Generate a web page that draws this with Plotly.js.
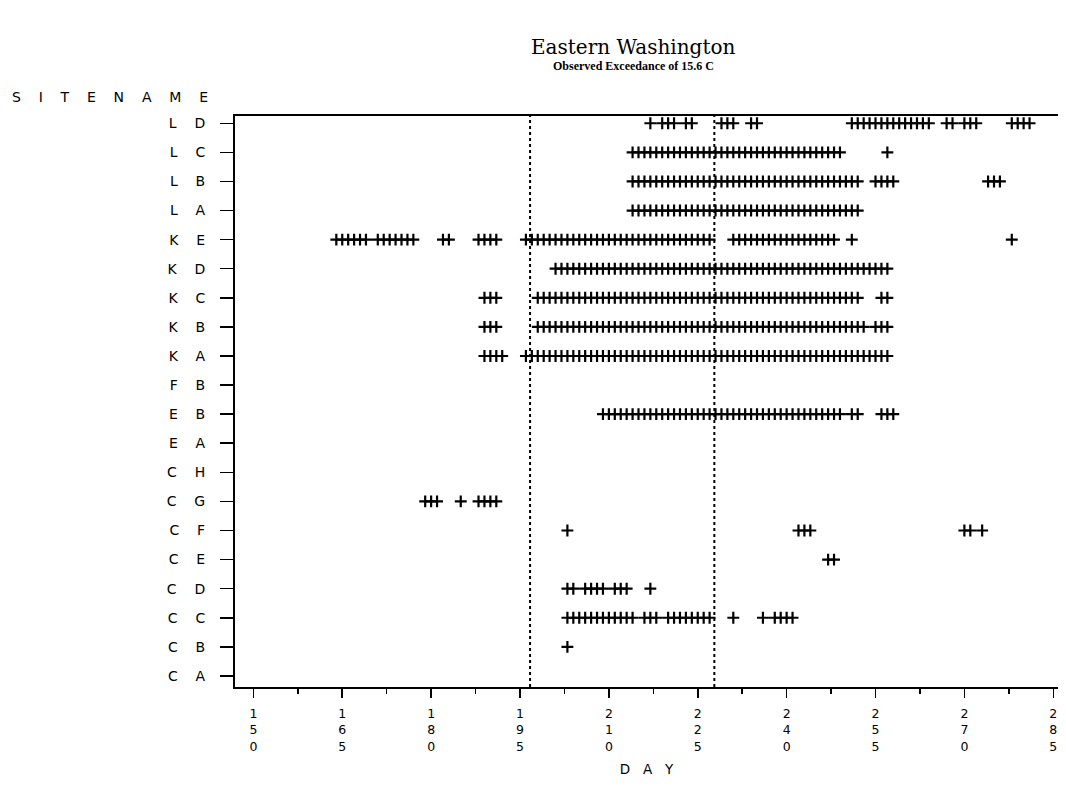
<!DOCTYPE html>
<html>
<head>
<meta charset="utf-8">
<script src="https://cdn.plot.ly/plotly-3.0.1.min.js"></script>
<style>html,body{margin:0;padding:0;background:#fff;}#chart{width:1066px;height:810px;}</style>
</head>
<body>
<div id="chart"></div>
<script>
// Sites, bottom to top
const sites = ["CA","CB","CC","CD","CE","CF","CG","CH","EA","EB","FB","KA","KB","KC","KD","KE","LA","LB","LC","LD"];
const siteLabels = ["C A","C B","C C","C D","C E","C F","C G","C H","E A","E B","F B","K A","K B","K C","K D","K E","L A","L B","L C","L D"];

// Observed exceedance days (day of year) per site
const dayLD = [217,219,220,221,223,224,229,230,231,234,235,251,252,253,254,255,256,257,258,259,260,261,262,263,264,267,268,270,271,272,278,279,280,281];
const dayLC = [214,215,216,217,218,219,220,221,222,223,224,225,226,227,228,229,230,231,232,233,234,235,236,237,238,239,240,241,242,243,244,245,246,247,248,249,257];
const dayLB = [214,215,216,217,218,219,220,221,222,223,224,225,226,227,228,229,230,231,232,233,234,235,236,237,238,239,240,241,242,243,244,245,246,247,248,249,250,251,252,255,256,257,258,274,275,276];
const dayLA = [214,215,216,217,218,219,220,221,222,223,224,225,226,227,228,229,230,231,232,233,234,235,236,237,238,239,240,241,242,243,244,245,246,247,248,249,250,251,252];
const dayKE = [164,165,166,167,168,169,171,172,173,174,175,176,177,182,183,188,189,190,191,196,197,198,199,200,201,202,203,204,205,206,207,208,209,210,211,212,213,214,215,216,217,218,219,220,221,222,223,224,225,226,227,231,232,233,234,235,236,237,238,239,240,241,242,243,244,245,246,247,248,251,278];
const dayKD = [201,202,203,204,205,206,207,208,209,210,211,212,213,214,215,216,217,218,219,220,221,222,223,224,225,226,227,228,229,230,231,232,233,234,235,236,237,238,239,240,241,242,243,244,245,246,247,248,249,250,251,252,253,254,255,256,257];
const dayKC = [189,190,191,198,199,200,201,202,203,204,205,206,207,208,209,210,211,212,213,214,215,216,217,218,219,220,221,222,223,224,225,226,227,228,229,230,231,232,233,234,235,236,237,238,239,240,241,242,243,244,245,246,247,248,249,250,251,252,256,257];
const dayKB = [189,190,191,198,199,200,201,202,203,204,205,206,207,208,209,210,211,212,213,214,215,216,217,218,219,220,221,222,223,224,225,226,227,228,229,230,231,232,233,234,235,236,237,238,239,240,241,242,243,244,245,246,247,248,249,250,251,252,253,255,256,257];
const dayKA = [189,190,191,192,196,197,198,199,200,201,202,203,204,205,206,207,208,209,210,211,212,213,214,215,216,217,218,219,220,221,222,223,224,225,226,227,228,229,230,231,232,233,234,235,236,237,238,239,240,241,242,243,244,245,246,247,248,249,250,251,252,253,254,255,256,257];
const dayFB = [];
const dayEB = [209,210,211,212,213,214,215,216,217,218,219,220,221,222,223,224,225,226,227,228,229,230,231,232,233,234,235,236,237,238,239,240,241,242,243,244,245,246,247,248,249,251,252,256,257,258];
const dayEA = [];
const dayCH = [];
const dayCG = [179,180,181,185,188,189,190,191];
const dayCF = [203,242,243,244,270,271,273];
const dayCE = [247,248];
const dayCD = [203,204,206,207,208,209,211,212,213,217];
const dayCC = [203,204,205,206,207,208,209,210,211,212,213,214,216,217,218,220,221,222,223,224,225,226,227,231,236,238,239,240,241];
const dayCB = [203];
const dayCA = [];

const siteDays = {CA:dayCA,CB:dayCB,CC:dayCC,CD:dayCD,CE:dayCE,CF:dayCF,CG:dayCG,CH:dayCH,EA:dayEA,EB:dayEB,FB:dayFB,KA:dayKA,KB:dayKB,KC:dayKC,KD:dayKD,KE:dayKE,LA:dayLA,LB:dayLB,LC:dayLC,LD:dayLD};

// Reference lines (day of year)
const refDays = [196.7, 227.8];

// X ticks
const xTickVals = [150,165,180,195,210,225,240,255,270,285];
const xTickText = xTickVals.map(v => String(v).split('').join('<br>'));

const traces = sites.map(s => ({
  type: 'scatter',
  mode: 'markers',
  x: siteDays[s],
  y: siteDays[s].map(() => s),
  marker: {symbol: 'cross-thin', size: 8.5, color: '#000', line: {color: '#000', width: 2.2}},
  showlegend: false,
  hoverinfo: 'x+y'
}));
// ensure empty categories exist
traces.push({type:'scatter', mode:'markers', x: sites.map(() => null), y: sites, showlegend:false, hoverinfo:'skip'});

const nb = '\u00a0';
const spaced = (t, n) => t.split('').join(nb.repeat(n));

const layout = {
  width: 1066, height: 810,
  paper_bgcolor: '#fff', plot_bgcolor: '#fff',
  margin: {l: 235, r: 8, t: 116, b: 123},
  font: {family: 'DejaVu Sans', color: '#000'},
  xaxis: {
    range: [146.9, 285.8],
    tickmode: 'array', tickvals: xTickVals, ticktext: xTickText,
    ticks: 'outside', ticklen: 9, tickwidth: 1.5, tickcolor: '#000',
    minor: {tick0: 150, dtick: 7.5, ticks: 'outside', ticklen: 5, tickwidth: 1.5, tickcolor: '#000'},
    tickfont: {family: 'DejaVu Sans', size: 12.5, color: '#000'},
    ticklabelstandoff: 5,
    showline: true, linecolor: '#000', linewidth: 2, mirror: true,
    showgrid: false, zeroline: false,
    title: {text: spaced('DAY', 3), font: {family: 'DejaVu Sans', size: 13.5, color: '#000'}, standoff: 12}
  },
  yaxis: {
    type: 'category',
    categoryorder: 'array', categoryarray: sites,
    range: [-0.38, 19.25],
    tickmode: 'array', tickvals: sites, ticktext: siteLabels.map(l => l.replace(' ', nb + nb + nb + nb)),
    ticks: 'outside', ticklen: 13, tickwidth: 1.5, tickcolor: '#000',
    tickfont: {family: 'DejaVu Sans', size: 14, color: '#000'},
    ticklabelstandoff: 12,
    showline: true, linecolor: '#000', linewidth: 2, mirror: false,
    showgrid: false, zeroline: false
  },
  shapes: refDays.map(d => ({
    type: 'line', xref: 'x', yref: 'paper', x0: d, x1: d, y0: 0, y1: 1,
    line: {color: '#000', width: 2, dash: 'dot'}
  })),
  annotations: [
    {text: 'Eastern Washington', xref: 'paper', yref: 'paper', x: 0.4838, y: 1, yshift: 69, xanchor: 'center', yanchor: 'middle', showarrow: false,
     font: {family: 'DejaVu Serif', size: 20, color: '#000'}},
    {text: '<b>Observed Exceedance of 15.6 C</b>', xref: 'paper', yref: 'paper', x: 0.4838, y: 1, yshift: 50, xanchor: 'center', yanchor: 'middle', showarrow: false,
     font: {family: 'Liberation Serif', size: 12, color: '#000'}},
    {text: spaced('SITENAME', 4), xref: 'paper', yref: 'paper', x: -0.2734, y: 1, yshift: 19, xanchor: 'left', yanchor: 'middle', showarrow: false,
     font: {family: 'DejaVu Sans', size: 14, color: '#000'}}
  ]
};

Plotly.newPlot('chart', traces, layout, {displayModeBar: false, staticPlot: true});
</script>
</body>
</html>
